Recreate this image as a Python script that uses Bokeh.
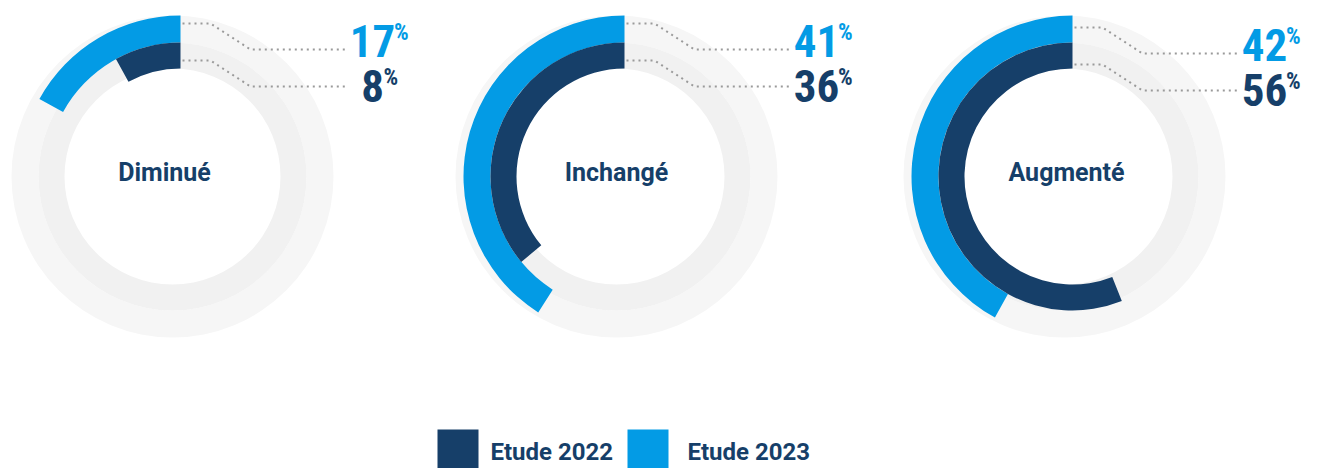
import math
from bokeh.plotting import figure
from bokeh.models import ColumnDataSource
from bokeh.core.properties import value
from bokeh.embed import file_html
from bokeh.resources import INLINE

# ---- data ----
categories = ["Diminué", "Inchangé", "Augmenté"]
etude_2022 = [8, 36, 56]
etude_2023 = [17, 41, 42]
series = ["Etude 2022", "Etude 2023"]

# ---- layout / style ----
W, H = 1317, 468
C_DARK = "#163f69"
C_LIGHT = "#039be5"
C_GRAY_OUT = "#f6f6f6"
C_GRAY_IN = "#f1f1f1"
arc_cx = [180, 624, 1072]
cy_img = 176
lab_dy = [0, 0, 4]
cat_dx = [-8, 0, 2]
R0, R1, R2 = 108, 134, 161


def Y(y):
    return H - y


p = figure(width=W, height=H, x_range=(0, W), y_range=(0, H), min_border=0,
           output_backend="svg", toolbar_location=None, background_fill_color="white",
           border_fill_color="white")
p.axis.visible = False
p.grid.visible = False
p.outline_line_color = None

cy = Y(cy_img)
gx = [x - 8 for x in arc_cx]
gy = [cy] * 3

# gray background rings
p.annular_wedge(x=gx, y=gy, inner_radius=R1, outer_radius=R2, start_angle=0, end_angle=2 * math.pi,
                fill_color=C_GRAY_OUT, line_color=None)
p.annular_wedge(x=gx, y=gy, inner_radius=R0, outer_radius=R1, start_angle=0, end_angle=2 * math.pi,
                fill_color=C_GRAY_IN, line_color=None)

# data arcs
src = ColumnDataSource(dict(
    x=arc_cx, y=gy,
    s=[math.pi / 2] * 3,
    e22=[math.pi / 2 + v / 100 * 2 * math.pi for v in etude_2022],
    e23=[math.pi / 2 + v / 100 * 2 * math.pi for v in etude_2023],
))
p.annular_wedge(x="x", y="y", inner_radius=R1, outer_radius=R2, start_angle="s", end_angle="e23",
                direction="anticlock", fill_color=C_LIGHT, line_color=None, source=src)
p.annular_wedge(x="x", y="y", inner_radius=R0, outer_radius=R1, start_angle="s", end_angle="e22",
                direction="anticlock", fill_color=C_DARK, line_color=None, source=src)

# center labels
p.text(x=[g + d for g, d in zip(gx, cat_dx)], y=[Y(cy_img - 4)] * 3, text=categories,
       text_align="center", text_baseline="middle",
       text_font=value("Roboto"), text_font_style="bold", text_font_size="25px", text_color=C_DARK)

# leader lines & value labels
for i, cx in enumerate(arc_cx):
    d = lab_dy[i]
    for (yl, yh, mid, val, col) in [(23, 49, 40, etude_2023[i], C_LIGHT),
                                    (60, 86, 85, etude_2022[i], C_DARK)]:
        xs = [cx + 2, cx + 30, cx + 70, cx + 166]
        ys = [Y(yl + d), Y(yl + d), Y(yh + d), Y(yh + d)]
        p.line(xs, ys, line_color="#9a9a9a", line_width=2, line_dash="2 4")
        txt = str(val)
        xc = cx + 192
        p.text(x=[xc], y=[Y(mid + d)], text=[txt], text_align="center", text_baseline="middle",
               text_font=value("Roboto Condensed"), text_font_style="bold", text_font_size="45px",
               text_color=col)
        p.text(x=[xc + len(txt) * 10.5 + 0.5], y=[Y(mid + d - 8)], text=["%"], text_align="left",
               text_baseline="middle", text_font=value("Roboto Condensed"), text_font_style="bold",
               text_font_size="23px", text_color=col)

# legend
leg_x = [437, 627]
leg_tx = [490, 687]
leg_cols = [C_DARK, C_LIGHT]
p.quad(left=leg_x, right=[x + 41 for x in leg_x], top=[Y(429)] * 2, bottom=[Y(480)] * 2,
       fill_color=leg_cols, line_color=None)
p.text(x=leg_tx, y=[Y(451)] * 2, text=series, text_align="left",
       text_baseline="middle", text_font=value("Roboto"), text_font_style="bold",
       text_font_size="24px", text_color=C_DARK)

open("out.html", "w").write(file_html(p, INLINE))
